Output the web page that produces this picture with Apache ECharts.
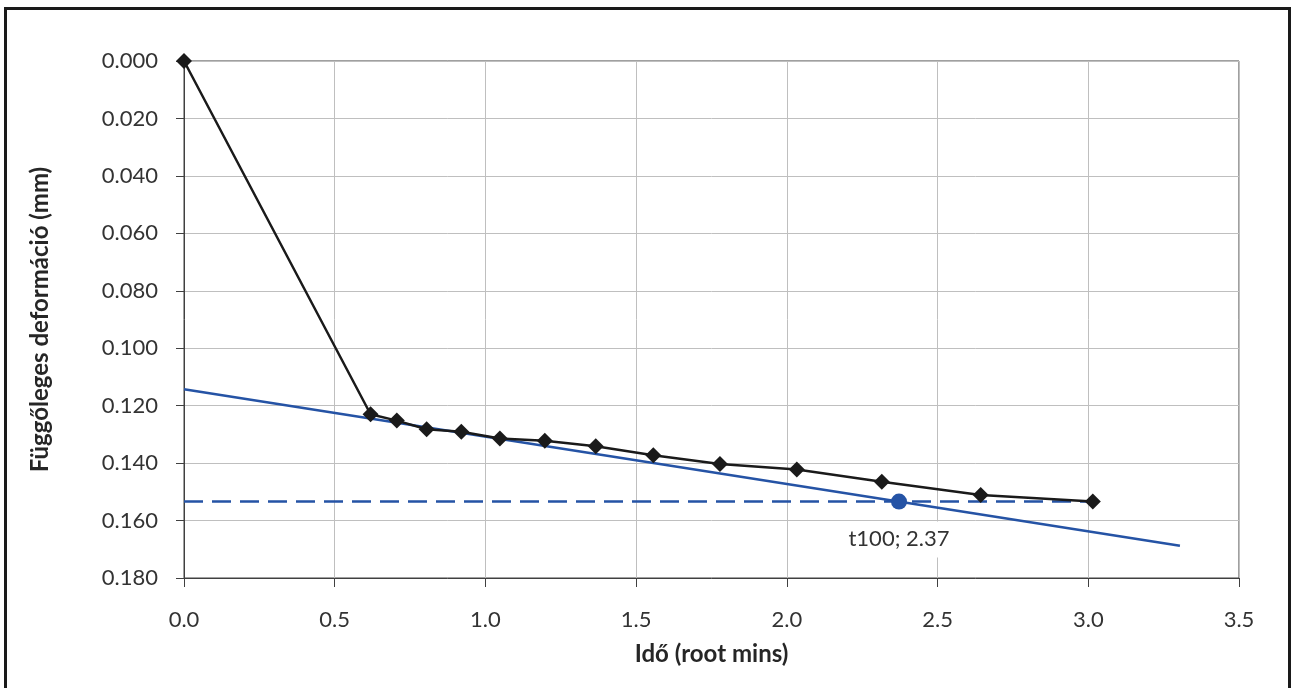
<!DOCTYPE html>
<html>
<head>
<meta charset="utf-8">
<script src="https://cdn.jsdelivr.net/npm/echarts@6/dist/echarts.min.js"></script>
<style>
html,body{margin:0;padding:0;background:#fff;}
#chart{width:1295px;height:688px;}
</style>
</head>
<body>
<div id="chart"></div>
<script>
// Measured data: root time (sqrt min) vs vertical deformation (mm)
const rootTime = [0.000, 0.619, 0.706, 0.805, 0.920, 1.048, 1.197, 1.366, 1.557, 1.778, 2.033, 2.315, 2.643, 3.015];
const deformation = [0.000, 0.1230, 0.1252, 0.1282, 0.1291, 0.1314, 0.1322, 0.1341, 0.1373, 0.1403, 0.1422, 0.1465, 0.1511, 0.1534];
// Fitted straight line end points
const fitX = [0.0, 3.304];
const fitY = [0.1143, 0.1688];
// t100 horizontal reference line and point
const t100LineX = [0.0, 3.015];
const t100Y = 0.1534;
const t100X = 2.372;
const t100Label = 't100; 2.37';
// Axis settings
const xTicks = { min: 0, max: 3.5, interval: 0.5 };
const yTicks = { min: 0, max: 0.18, interval: 0.02 };
const xTitle = 'Idő (root mins)';
const yTitle = 'Függőleges deformáció (mm)';

const chart = echarts.init(document.getElementById('chart'), null, { renderer: 'canvas' });
const font = 'Lato, "Open Sans", sans-serif';
const textColor = '#333333';
const blue = '#2553a5';

const option = {
  animation: false,
  backgroundColor: '#ffffff',
  textStyle: { fontFamily: font },
  graphic: [
    { type: 'rect', shape: { x: 5.5, y: 8.5, width: 1284, height: 720 },
      style: { fill: 'none', stroke: '#1a1a1a', lineWidth: 3 }, silent: true, z: 100 }
  ],
  grid: { left: 184, top: 61, right: 56, bottom: 110, show: true, borderColor: '#404040', borderWidth: 1, backgroundColor: 'transparent' },
  xAxis: {
    type: 'value', min: xTicks.min, max: xTicks.max, interval: xTicks.interval,
    name: xTitle, nameLocation: 'middle', nameGap: 64,
    nameTextStyle: { fontFamily: font, fontSize: 24, fontWeight: 'bold', color: '#262626' },
    axisLine: { show: true, onZero: false, lineStyle: { color: '#404040', width: 1 } },
    axisTick: { show: true, inside: false, length: 9, lineStyle: { color: '#404040' } },
    axisLabel: { fontFamily: font, fontSize: 22, color: textColor, margin: 31, formatter: v => v.toFixed(1) },
    splitLine: { show: true, lineStyle: { color: '#bfbfbf', width: 1 } }
  },
  yAxis: {
    type: 'value', inverse: true, min: yTicks.min, max: yTicks.max, interval: yTicks.interval,
    name: yTitle, nameLocation: 'middle', nameGap: 132, nameRotate: 90,
    nameTextStyle: { fontFamily: font, fontSize: 24, fontWeight: 'bold', color: '#262626' },
    axisLine: { show: true, onZero: false, lineStyle: { color: '#404040', width: 1 } },
    axisTick: { show: true, length: 8, lineStyle: { color: '#404040' } },
    axisLabel: { fontFamily: font, fontSize: 22, color: textColor, margin: 26, formatter: v => v.toFixed(3) },
    splitLine: { show: true, lineStyle: { color: '#bfbfbf', width: 1 } }
  },
  series: [
    {
      name: 'fit', type: 'line', data: fitX.map((x, i) => [x, fitY[i]]),
      showSymbol: false, symbol: 'none', lineStyle: { color: blue, width: 2.5 }, z: 3
    },
    {
      name: 't100 line', type: 'line', data: t100LineX.map(x => [x, t100Y]),
      showSymbol: false, symbol: 'none', lineStyle: { color: blue, width: 2.5, type: [19, 9] }, z: 3
    },
    {
      name: 'measured', type: 'line', data: rootTime.map((x, i) => [x, deformation[i]]),
      symbol: 'diamond', symbolSize: 16, itemStyle: { color: '#1a1a1a', opacity: 1 },
      lineStyle: { color: '#1a1a1a', width: 2.5 }, z: 4
    },
    {
      name: 't100', type: 'scatter', data: [[t100X, t100Y]], symbol: 'circle', symbolSize: 16,
      itemStyle: { color: blue, opacity: 1 }, z: 5,
      label: { show: true, position: 'bottom', distance: 12, formatter: t100Label,
        fontFamily: font, fontSize: 22, color: textColor, backgroundColor: '#ffffff', padding: [6, 9, 8, 9] }
    }
  ]
};
chart.setOption(option);
</script>
</body>
</html>
